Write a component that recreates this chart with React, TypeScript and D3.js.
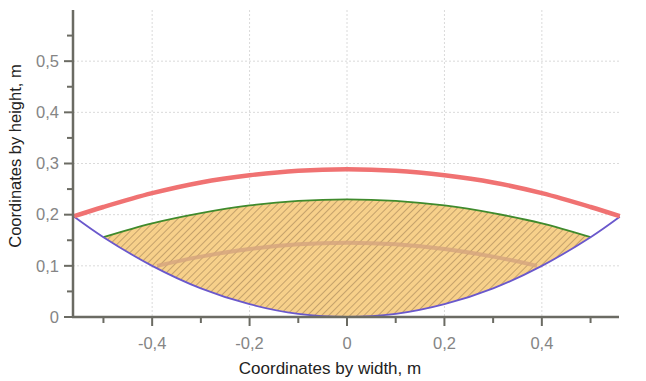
import React from "react";
import * as d3 from "d3";

const xTicksMajor = [-0.4, -0.2, 0, 0.2, 0.4];
const xTicksMinor = [-0.5, -0.3, -0.1, 0.1, 0.3, 0.5];
const yTicksMajor = [0, 0.1, 0.2, 0.3, 0.4, 0.5];
const yTicksMinor = [0.05, 0.15, 0.25, 0.35, 0.45, 0.55];

const redX = [-0.56, -0.5, -0.4, -0.3, -0.2, -0.1, 0, 0.1, 0.2, 0.3, 0.4, 0.5, 0.56];
const redY = [0.197, 0.215, 0.242, 0.263, 0.277, 0.286, 0.289, 0.286, 0.277, 0.263, 0.242, 0.215, 0.197];

const blueX = [-0.56, -0.5, -0.4, -0.3, -0.2, -0.1, 0, 0.1, 0.2, 0.3, 0.4, 0.5, 0.56];
const blueY = [0.196, 0.156, 0.1, 0.056, 0.025, 0.006, 0, 0.006, 0.025, 0.056, 0.1, 0.156, 0.196];

const greenX = [-0.5, -0.4, -0.3, -0.2, -0.1, 0, 0.1, 0.2, 0.3, 0.4, 0.5];
const greenY = [0.156, 0.183, 0.203, 0.218, 0.227, 0.23, 0.227, 0.218, 0.203, 0.183, 0.156];

const tanX = [-0.39, -0.3, -0.2, -0.1, 0, 0.1, 0.2, 0.3, 0.39];
const tanY = [0.1, 0.118, 0.133, 0.142, 0.145, 0.142, 0.133, 0.118, 0.1];

const W = 646;
const H = 381;

export default function App() {
  const x = d3.scaleLinear().domain([-0.5625, 0.5625]).range([73, 621]);
  const y = d3.scaleLinear().domain([0, 0.6]).range([317, 10]);
  const line = d3
    .line<[number, number]>()
    .x((d) => x(d[0]))
    .y((d) => y(d[1]))
    .curve(d3.curveCatmullRom);
  const zip = (xs: number[], ys: number[]) => xs.map((v, i) => [v, ys[i]] as [number, number]);

  const red = zip(redX, redY);
  const blue = zip(blueX, blueY);
  const green = zip(greenX, greenY);
  const tan = zip(tanX, tanY);
  const blueInner = blue.filter((d) => d[0] >= -0.5 && d[0] <= 0.5);
  const areaPath =
    (line(green) as string) +
    "L" +
    (line(blueInner.slice().reverse()) as string).slice(1) +
    "Z";

  const axisColor = "#6b6b63";
  const labelColor = "#858585";
  const font = "Liberation Sans, Arial, sans-serif";
  const fmt = (v: number) => (v === 0 ? "0" : d3.format(".1f")(v).replace(".", ",").replace("−", "-"));

  return (
    <svg
      width={W}
      height={H}
      style={{ position: "absolute", left: 0, top: 0, background: "#fff" }}
    >
      <defs>
        <pattern
          id="hatch"
          patternUnits="userSpaceOnUse"
          width={5}
          height={5}
          patternTransform="rotate(45)"
        >
          <rect width={5} height={5} fill="#f7d08a" />
          <line x1={0} y1={0} x2={0} y2={5} stroke="#a8885a" strokeWidth={1.3} />
        </pattern>
      </defs>
      {/* grid */}
      {xTicksMajor.map((t) => (
        <line
          key={"gx" + t}
          x1={x(t)}
          x2={x(t)}
          y1={y(0.6)}
          y2={y(0)}
          stroke="#dadada"
          strokeDasharray="2,2"
        />
      ))}
      {yTicksMajor
        .filter((t) => t > 0)
        .map((t) => (
          <line
            key={"gy" + t}
            x1={x(-0.5625)}
            x2={619}
            y1={y(t)}
            y2={y(t)}
            stroke="#dadada"
            strokeDasharray="2,2"
          />
        ))}
      {/* hatched area */}
      <path d={areaPath} fill="url(#hatch)" stroke="none" />
      <path d={line(tan) as string} fill="none" stroke="#d6a67e" strokeOpacity={0.85} strokeWidth={4} />
      <path d={line(green) as string} fill="none" stroke="#3f8a2c" strokeWidth={1.8} />
      <path d={line(blue) as string} fill="none" stroke="#6a58cc" strokeWidth={1.8} />
      <path d={line(red) as string} fill="none" stroke="#f07272" strokeWidth={4.5} />
      {/* axes */}
      <line x1={73} x2={73} y1={10} y2={318} stroke={axisColor} strokeWidth={2.5} />
      <line x1={72} x2={619} y1={317} y2={317} stroke={axisColor} strokeWidth={2.5} />
      {yTicksMajor.map((t) => (
        <g key={"ym" + t}>
          <line x1={64} x2={73} y1={y(t)} y2={y(t)} stroke={axisColor} strokeWidth={2} />
          <text
            x={59}
            y={y(t)}
            dy="0.35em"
            textAnchor="end"
            fontFamily={font}
            fontSize={16.5}
            fill={labelColor}
          >
            {fmt(t)}
          </text>
        </g>
      ))}
      {yTicksMinor.map((t) => (
        <line key={"yn" + t} x1={67} x2={73} y1={y(t)} y2={y(t)} stroke={axisColor} strokeWidth={2} />
      ))}
      {xTicksMajor.map((t) => (
        <g key={"xm" + t}>
          <line x1={x(t)} x2={x(t)} y1={317} y2={326} stroke={axisColor} strokeWidth={2} />
          <text
            x={x(t)}
            y={349}
            textAnchor="middle"
            fontFamily={font}
            fontSize={16.5}
            fill={labelColor}
          >
            {fmt(t)}
          </text>
        </g>
      ))}
      {xTicksMinor.map((t) => (
        <line key={"xn" + t} x1={x(t)} x2={x(t)} y1={317} y2={323} stroke={axisColor} strokeWidth={2} />
      ))}
      <text
        x={330}
        y={374}
        textAnchor="middle"
        fontFamily={font}
        fontSize={17}
        fill="#222"
      >
        Coordinates by width, m
      </text>
      <text
        transform="translate(21,156) rotate(-90)"
        textAnchor="middle"
        fontFamily={font}
        fontSize={16.5}
        fill="#222"
      >
        Coordinates by height, m
      </text>
    </svg>
  );
}
